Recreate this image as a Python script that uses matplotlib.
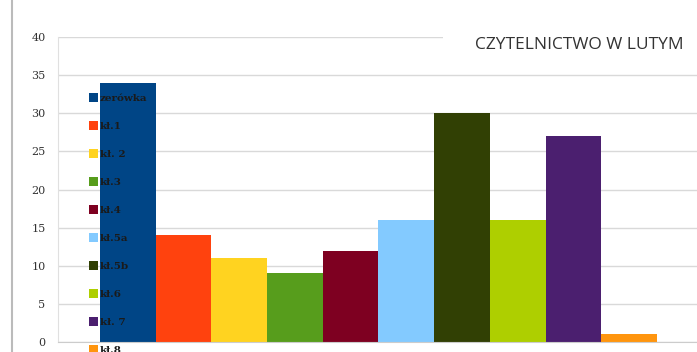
import matplotlib.pyplot as plt
from matplotlib.lines import Line2D
from matplotlib.patches import Patch, Rectangle

classes = ["zerówka", "kł.1", "kł. 2", "kł.3", "kł.4", "kł.5a", "kł.5b", "kł.6", "kł. 7", "kł.8"]
readers = [34, 14, 11, 9, 12, 16, 30, 16, 27, 1]
colors = ["#004586", "#ff420e", "#ffd320", "#579d1c", "#7e0021",
          "#83caff", "#314004", "#aecf00", "#4b1f6f", "#ff950e"]
yticks = [0, 5, 10, 15, 20, 25, 30, 35, 40]

fig = plt.figure(figsize=(6.97, 3.52), dpi=100)
ax = fig.add_axes([58 / 697, 10 / 352, 639 / 697, 305 / 352])

x = list(range(len(classes)))
ax.bar(x, readers, width=1.0, color=colors, zorder=2)

ax.set_xlim(-1.254, 10.22)
ax.set_ylim(0, 40)
ax.set_yticks(yticks)
ax.set_xticks([])
ax.tick_params(axis="y", length=0, pad=9, labelsize=8, labelcolor="#333333")
for lab in ax.get_yticklabels():
    lab.set_family("DejaVu Serif")
ax.grid(axis="y", color="#d9d9d9", linewidth=1, zorder=0)
for s in ["top", "right"]:
    ax.spines[s].set_visible(False)
ax.spines["left"].set_color("#e0e0e0")
ax.spines["bottom"].set_color("#cccccc")

handles = [Patch(facecolor=c, edgecolor="none") for c in colors]
leg = ax.legend(handles, classes, loc="upper left", bbox_to_anchor=(27 / 639, 1 - 52 / 305),
                frameon=False, labelspacing=1.72, handlelength=0.85,
                handleheight=0.95, handletextpad=0.2, borderaxespad=0,
                prop={"family": "DejaVu Serif", "weight": "bold", "size": 7.5})
for t in leg.get_texts():
    t.set_color("#1a1a1a")
leg.set_zorder(5)

# white box behind the title hides the top gridline
fig.add_artist(Rectangle((443 / 697, 1 - 60 / 352), 254 / 697, 30 / 352,
                         transform=fig.transFigure, facecolor="white", edgecolor="none", zorder=3))
fig.text(579 / 697, 1 - 45 / 352, "CZYTELNICTWO W LUTYM", ha="center", va="center",
         fontsize=12.5, color="#333333", family="Open Sans", zorder=4)

fig.add_artist(Line2D([12 / 697, 12 / 697], [0, 1], color="#bbbbbb", linewidth=1.5))

fig.savefig("out.png", dpi=100)
